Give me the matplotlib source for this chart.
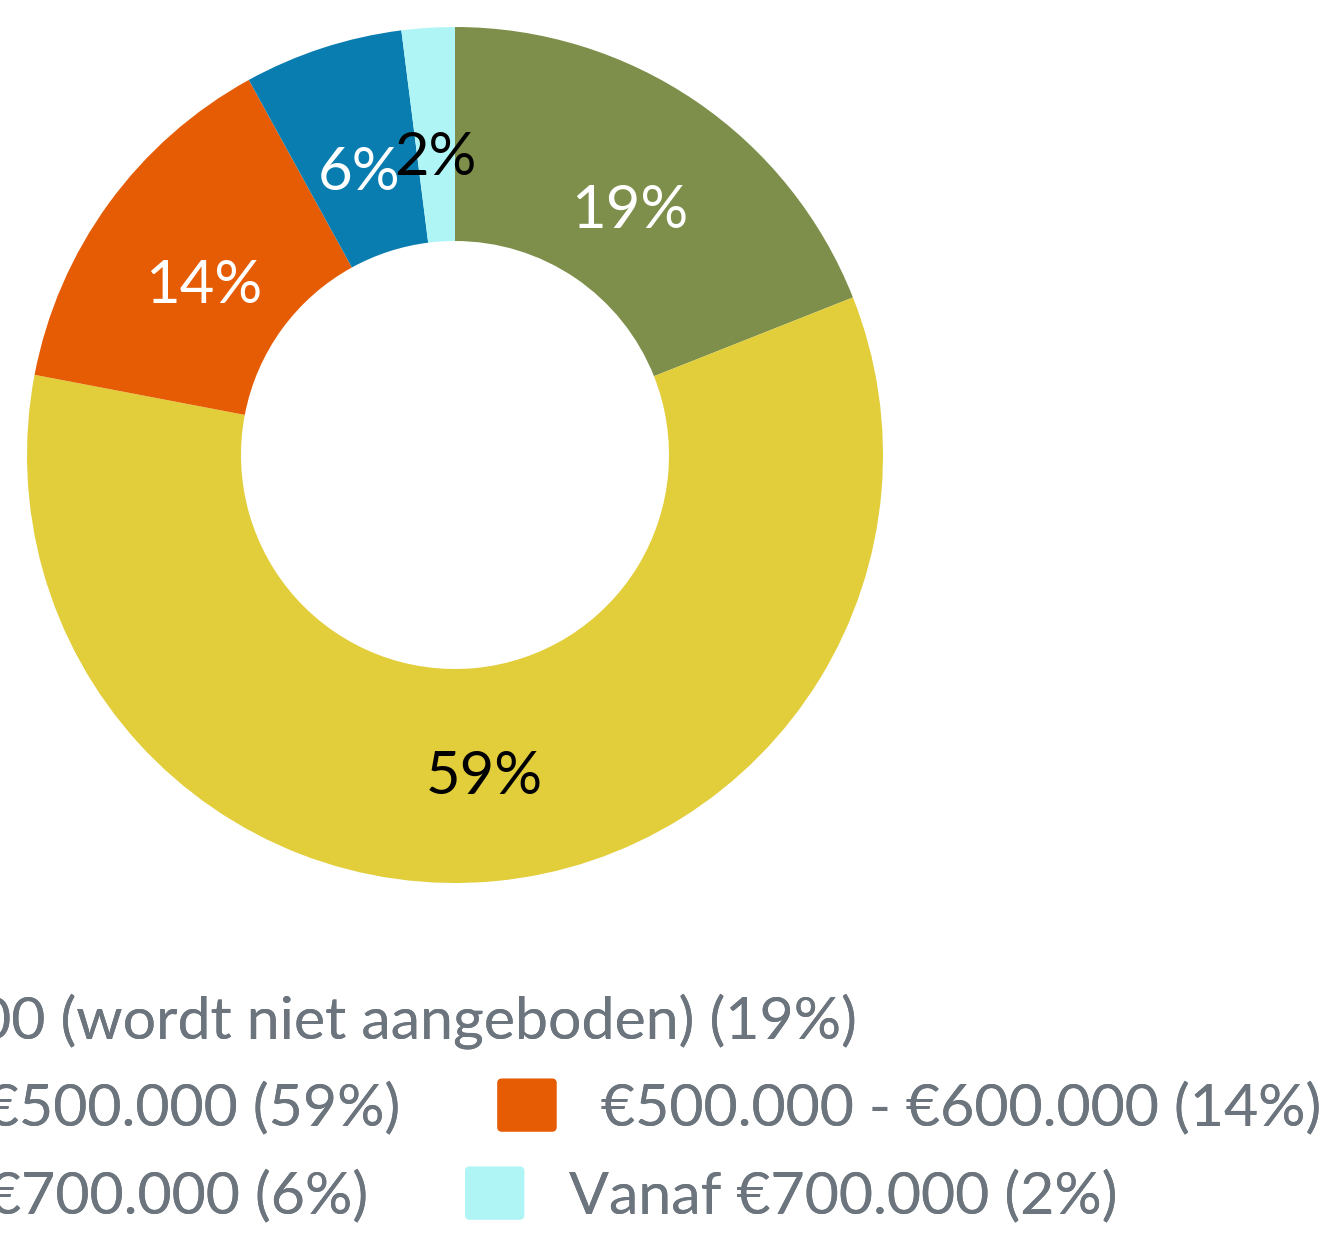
import matplotlib.pyplot as plt
from matplotlib.patches import Patch, FancyBboxPatch
from matplotlib.legend_handler import HandlerPatch
from matplotlib.transforms import ScaledTranslation

# data
labels = ['Tot €400.000 (wordt niet aangeboden)', '€400.000 - €500.000',
          '€500.000 - €600.000', '€600.000 - €700.000', 'Vanaf €700.000']
shares = [19, 59, 14, 6, 2]
colors = ['#7D8F4A', '#E2CD3A', '#E55C04', '#0A7DB0', '#B0F5F5']
label_colors = ['white', 'black', 'white', 'white', 'black']

plt.rcParams['font.family'] = ['Lato', 'DejaVu Sans']

fig = plt.figure(figsize=(13.23, 12.36), dpi=100)
# donut: centre at (455, 455) px, outer radius 428 px
ax = fig.add_axes([27 / 1323, (1236 - 455 - 428) / 1236, 856 / 1323, 856 / 1236])

wedges, texts, autotexts = ax.pie(
    shares, colors=colors, startangle=90, counterclock=False, radius=1,
    wedgeprops=dict(width=0.5, linewidth=0),
    autopct='%1.0f%%', pctdistance=0.725,
    textprops=dict(fontsize=43))
for t, c in zip(autotexts, label_colors):
    t.set_color(c)
    t.set_transform(t.get_transform() + ScaledTranslation(0, -0.13, fig.dpi_scale_trans))
ax.set_xlim(-1, 1)
ax.set_ylim(-1, 1)
ax.set_aspect('equal')
ax.axis('off')


def rounded_square(legend, orig_handle, xdescent, ydescent, width, height, fontsize):
    return FancyBboxPatch((-xdescent, -ydescent), width, height,
                          boxstyle='round,pad=0,rounding_size=3')


handles = [Patch(facecolor=c, edgecolor='none') for c in colors]
names = [f'{l} ({s}%)' for l, s in zip(labels, shares)]

# legend rows, flowing like the original: (items, right edge px, centre y px)
rows = [([0], 857, 1020), ([1, 2], 1321, 1107), ([3, 4], 1117, 1195)]
for idx, right, yc in rows:
    leg = fig.legend([handles[i] for i in idx], [names[i] for i in idx],
                     loc='center right', bbox_to_anchor=(right / 1323, 1 - yc / 1236),
                     ncol=len(idx), frameon=False, fontsize=42.5,
                     borderpad=0, borderaxespad=0,
                     handlelength=1.0, handleheight=1.0, handletextpad=0.75,
                     columnspacing=1.64,
                     handler_map={Patch: HandlerPatch(patch_func=rounded_square)})
    for t in leg.get_texts():
        t.set_color('#6C757D')
    fig.add_artist(leg)

fig.savefig('out.png', dpi=100)
